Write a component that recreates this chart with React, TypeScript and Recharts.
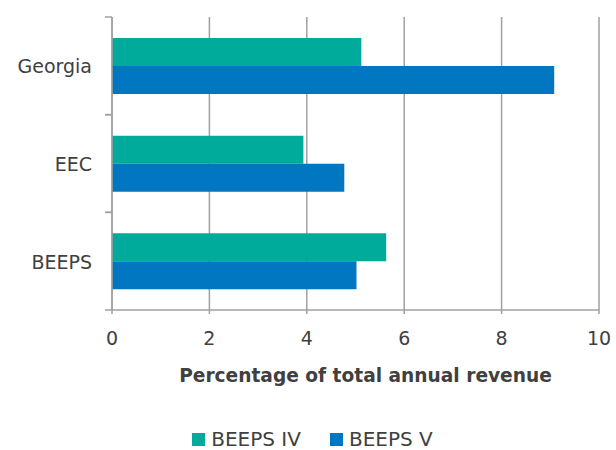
import React from 'react';
import { BarChart, Bar, XAxis, YAxis, CartesianGrid, Legend, Label } from 'recharts';

const categories = ['Georgia', 'EEC', 'BEEPS'];
const beepsIV = [5.12, 3.93, 5.63];
const beepsV = [9.08, 4.77, 5.02];
const xTicks = [0, 2, 4, 6, 8, 10];
const seriesNames = ['BEEPS IV', 'BEEPS V'];
const colors = ['#00ab9b', '#0077c0'];
const axisTitle = 'Percentage of total annual revenue';

const data = categories.map((c, i) => ({ name: c, iv: beepsIV[i], v: beepsV[i] }));

const LINE = '#a0a0a0';
const TEXT = '#404040';
const Y_TICK_SIZE = 6;
const Y_TICK_MARGIN = 14;
const BOUND_TICK = 7;

const CategoryTick = (props: any) => {
  const { x, y, payload } = props;
  const axisX = x + Y_TICK_SIZE + Y_TICK_MARGIN;
  const half = payload && typeof payload.offset === 'number' && payload.offset > 0 ? payload.offset : 48.8;
  return (
    <g>
      <line x1={axisX - BOUND_TICK} x2={axisX} y1={y - half} y2={y - half} stroke={LINE} strokeWidth={1.5} />
      <line x1={axisX - BOUND_TICK} x2={axisX} y1={y + half} y2={y + half} stroke={LINE} strokeWidth={1.5} />
      <text x={x} y={y} dy="0.4em" textAnchor="end" fontSize={19} fill={TEXT}>
        {payload.value}
      </text>
    </g>
  );
};

const LegendContent = (props: any) => {
  const payload = props.payload || [];
  return (
    <div style={{ height: 22, paddingTop: 38, paddingLeft: 26, display: 'flex', justifyContent: 'center', alignItems: 'center', overflow: 'visible' }}>
      {payload.map((p: any, i: number) => (
        <div key={i} style={{ display: 'flex', alignItems: 'center', marginRight: i === 0 ? 29 : 0 }}>
          <div style={{ width: 13, height: 13, background: p.color, marginRight: 6 }} />
          <span style={{ fontSize: 20, color: TEXT, lineHeight: '22px', whiteSpace: 'nowrap' }}>{p.value}</span>
        </div>
      ))}
    </div>
  );
};

export default function App() {
  return (
    <div style={{ position: 'absolute', left: 0, top: 0, width: 616, height: 450, background: '#fff', fontFamily: 'DejaVu Sans, Liberation Sans, sans-serif' }}>
      <BarChart
        width={616}
        height={450}
        data={data}
        layout="vertical"
        margin={{ top: 17, right: 17, left: 0, bottom: 0 }}
        barCategoryGap={21}
        barGap={0}
      >
        <CartesianGrid horizontal={false} vertical={true} stroke={LINE} strokeWidth={1.5} />
        <XAxis
          type="number"
          domain={[0, 10]}
          ticks={xTicks}
          axisLine={{ stroke: LINE, strokeWidth: 1.5 }}
          tickLine={{ stroke: LINE, strokeWidth: 1.5 }}
          tickSize={4}
          tickMargin={18}
          tick={{ fontSize: 19, fill: TEXT }}
          height={80}
        >
          <Label value={axisTitle} position="insideBottom" offset={8} dx={10} style={{ fontSize: 18.6, fontWeight: 'bold', fill: TEXT }} />
        </XAxis>
        <YAxis
          type="category"
          dataKey="name"
          width={112}
          axisLine={{ stroke: LINE, strokeWidth: 1.5 }}
          tickLine={false}
          tickSize={Y_TICK_SIZE}
          tickMargin={Y_TICK_MARGIN}
          tick={<CategoryTick />}
        />
        <Bar dataKey="iv" name={seriesNames[0]} fill={colors[0]} isAnimationActive={false} />
        <Bar dataKey="v" name={seriesNames[1]} fill={colors[1]} isAnimationActive={false} />
        <Legend verticalAlign="bottom" content={<LegendContent />} wrapperStyle={{ height: 60 }} />
      </BarChart>
    </div>
  );
}
